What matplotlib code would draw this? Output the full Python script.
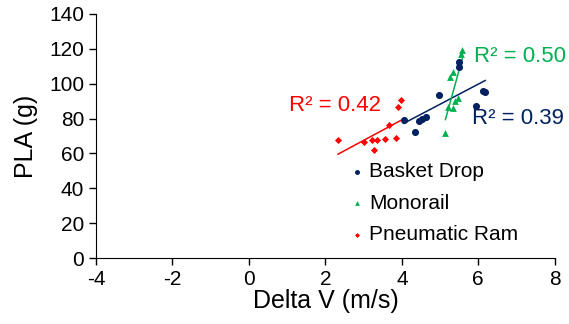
import numpy as np
import matplotlib
matplotlib.use("Agg")
import matplotlib.pyplot as plt

plt.rcParams['font.family'] = ['Liberation Sans', 'DejaVu Sans']
plt.rcParams['axes.unicode_minus'] = False

# Basket Drop (navy circles)
basket_x = [4.05, 4.34, 4.45, 4.52, 4.63, 4.97, 5.50, 5.50, 5.93, 6.13, 6.18]
basket_y = [79.3, 72.2, 78.5, 79.8, 80.8, 93.4, 112.5, 109.7, 87.3, 95.9, 95.0]

# Monorail (green triangles)
mono_x = [5.58, 5.56, 5.34, 5.25, 5.46, 5.39, 5.21, 5.34, 5.14]
mono_y = [119.5, 117.2, 106.7, 104.1, 91.7, 90.2, 86.9, 86.0, 72.0]

# Pneumatic Ram (red diamonds)
ram_x = [2.33, 3.01, 3.23, 3.35, 3.57, 3.67, 3.84, 3.27, 3.97, 3.90]
ram_y = [67.8, 66.8, 67.8, 67.8, 68.2, 76.4, 69.1, 62.0, 90.8, 86.9]

series_names = ["Basket Drop", "Monorail", "Pneumatic Ram"]
r2_labels = ["R² = 0.39", "R² = 0.50", "R² = 0.42"]

navy = "#002060"
green = "#00B050"
red = "#FF0000"

fig = plt.figure(figsize=(5.69, 3.24), dpi=100)
ax = fig.add_axes([0.1687, 0.2037, 0.8063, 0.7531])

series = [
    (basket_x, basket_y, navy, "o", 26),
    (mono_x, mono_y, green, "^", 24),
    (ram_x, ram_y, red, "D", 13),
]
for (xs, ys, col, mk, s), name in zip(series, series_names):
    ax.scatter(xs, ys, color=col, marker=mk, s=s, label=name, zorder=3, linewidths=0)
    # linear trendline over the data range
    m, b = np.polyfit(xs, ys, 1)
    xx = np.array([min(xs), max(xs)])
    ax.plot(xx, m * xx + b, color=col, lw=1.1, zorder=2)

ax.text(5.83, 80, r2_labels[0], color=navy, fontsize=16, va="center")
ax.text(5.88, 115.6, r2_labels[1], color=green, fontsize=16, va="center")
ax.text(1.05, 87.5, r2_labels[2], color=red, fontsize=16, va="center")

ax.set_xlim(-4, 8)
ax.set_ylim(0, 140)
ax.set_xticks(np.arange(-4, 9, 2))
ax.set_yticks(np.arange(0, 141, 20))
ax.spines["top"].set_visible(False)
ax.spines["right"].set_visible(False)
ax.tick_params(direction="out", length=5, labelsize=15, width=1)
ax.set_xlabel("Delta V (m/s)", fontsize=18, labelpad=0)
ax.set_ylabel("PLA (g)", fontsize=18, labelpad=8)

ax.legend(loc="upper left", bbox_to_anchor=(336 / 569, 1 - 152 / 324),
          bbox_transform=fig.transFigure, frameon=False, fontsize=15,
          handletextpad=0.1, labelspacing=0.6, markerscale=0.7,
          borderpad=0, handlelength=1)

fig.savefig("out.png", dpi=100)
